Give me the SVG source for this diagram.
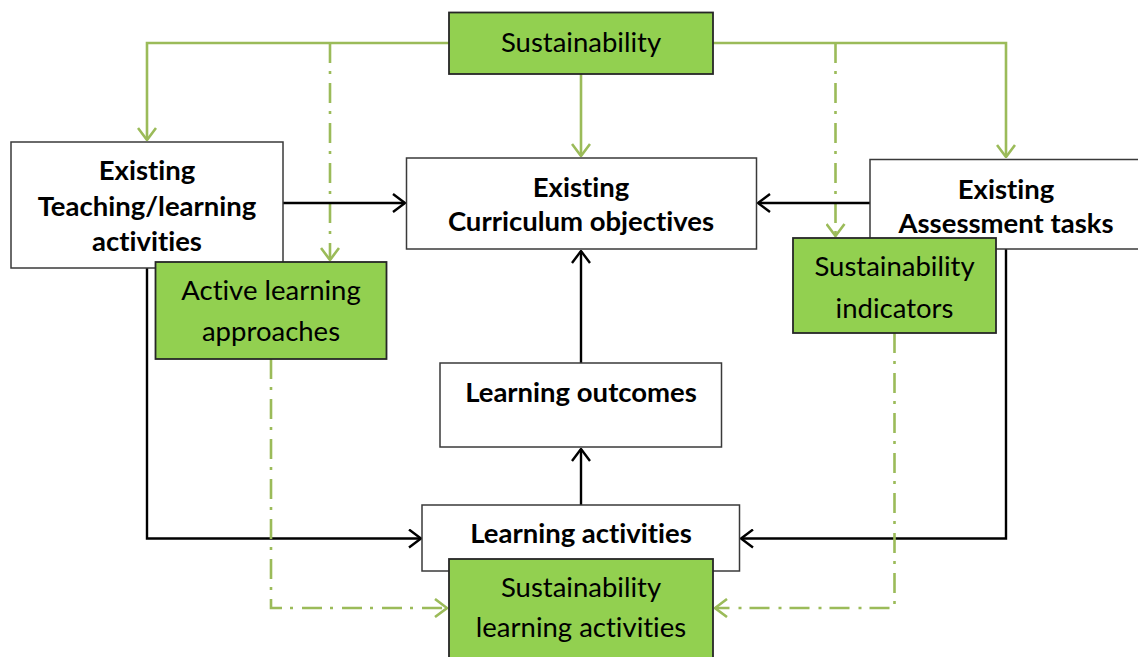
<svg xmlns="http://www.w3.org/2000/svg" width="1138" height="657" viewBox="0 0 1138 657">
<defs>
<style>
.box{fill:#ffffff;stroke:#3a3a3a;stroke-width:1.5}
.gbox{fill:#92D050;stroke:#262626;stroke-width:1.8}
.t{font-family:Lato,"Liberation Sans",sans-serif;font-size:27.5px;fill:#000;text-anchor:middle;font-variant-ligatures:none}
.b{font-weight:bold}
.k{fill:none;stroke:#000;stroke-width:2.4}
.g{fill:none;stroke:#9BBB59;stroke-width:2.6}
.gd{fill:none;stroke:#9BBB59;stroke-width:2.6;stroke-dasharray:20 8 3 9}
</style>
<marker id="ak" viewBox="0 0 14 20" refX="13" refY="10" markerWidth="14" markerHeight="20" markerUnits="userSpaceOnUse" orient="auto">
<path d="M1,1 L13,10 L1,19" fill="none" stroke="#000" stroke-width="2.4"/>
</marker>
<marker id="ag" viewBox="0 0 14 20" refX="13" refY="10" markerWidth="14" markerHeight="20" markerUnits="userSpaceOnUse" orient="auto">
<path d="M1,1 L13,10 L1,19" fill="none" stroke="#9BBB59" stroke-width="2.6"/>
</marker>
</defs>
<rect width="1138" height="657" fill="#fff"/>
<g id="connectors">
<path class="g" d="M449,43 H147 V140" marker-end="url(#ag)"/>
<path class="g" d="M713,43 H1006 V157" marker-end="url(#ag)"/>
<path class="g" d="M581,74 V156" marker-end="url(#ag)"/>
<path class="gd" d="M330,43 V260" marker-end="url(#ag)"/>
<path class="gd" d="M835.5,43 V236" marker-end="url(#ag)"/>
<path class="k" d="M283,203 H405" marker-end="url(#ak)"/>
<path class="k" d="M870,203 H758" marker-end="url(#ak)"/>
<path class="k" d="M581,363 V251" marker-end="url(#ak)"/>
<path class="k" d="M581,505 V449" marker-end="url(#ak)"/>
<path class="k" d="M147,268 V538.5 H421" marker-end="url(#ak)"/>
<path class="k" d="M1006,249 V538.5 H741" marker-end="url(#ak)"/>
<path class="gd" d="M271,359 V608 H447" marker-end="url(#ag)"/>
<path class="gd" d="M894.5,333 V608 H715" marker-end="url(#ag)"/>
</g>
<g id="sustainability">
<rect class="gbox" x="449" y="12.5" width="264" height="61.5"/>
<text class="t" x="581" y="52">Sustainability</text>
</g>
<g id="teaching">
<rect class="box" x="11" y="142" width="272" height="126"/>
<text class="t b" x="147" y="180">Existing</text>
<text class="t b" x="147" y="216">Teaching/learning</text>
<text class="t b" x="147" y="251">activities</text>
</g>
<g id="curriculum">
<rect class="box" x="406.5" y="158" width="350" height="91"/>
<text class="t b" x="581" y="197">Existing</text>
<text class="t b" x="581" y="231">Curriculum objectives</text>
</g>
<g id="assessment">
<rect class="box" x="870" y="159.5" width="272" height="89.5"/>
<text class="t b" x="1006" y="199">Existing</text>
<text class="t b" x="1006" y="233">Assessment tasks</text>
</g>
<g id="active">
<rect class="gbox" x="155.5" y="262" width="231" height="97"/>
<text class="t" x="271" y="300">Active learning</text>
<text class="t" x="271" y="341">approaches</text>
</g>
<g id="indicators">
<rect class="gbox" x="793" y="238" width="203" height="95"/>
<text class="t" x="894.5" y="276">Sustainability</text>
<text class="t" x="894.5" y="318">indicators</text>
</g>
<g id="outcomes">
<rect class="box" x="440" y="363" width="281.5" height="84"/>
<text class="t b" x="581" y="402">Learning outcomes</text>
</g>
<g id="activities">
<rect class="box" x="422" y="505" width="317.5" height="66"/>
<text class="t b" x="581" y="543">Learning activities</text>
</g>
<g id="sla">
<rect class="gbox" x="449" y="559" width="264" height="102"/>
<text class="t" x="581" y="597">Sustainability</text>
<text class="t" x="581" y="637">learning activities</text>
</g>
</svg>
